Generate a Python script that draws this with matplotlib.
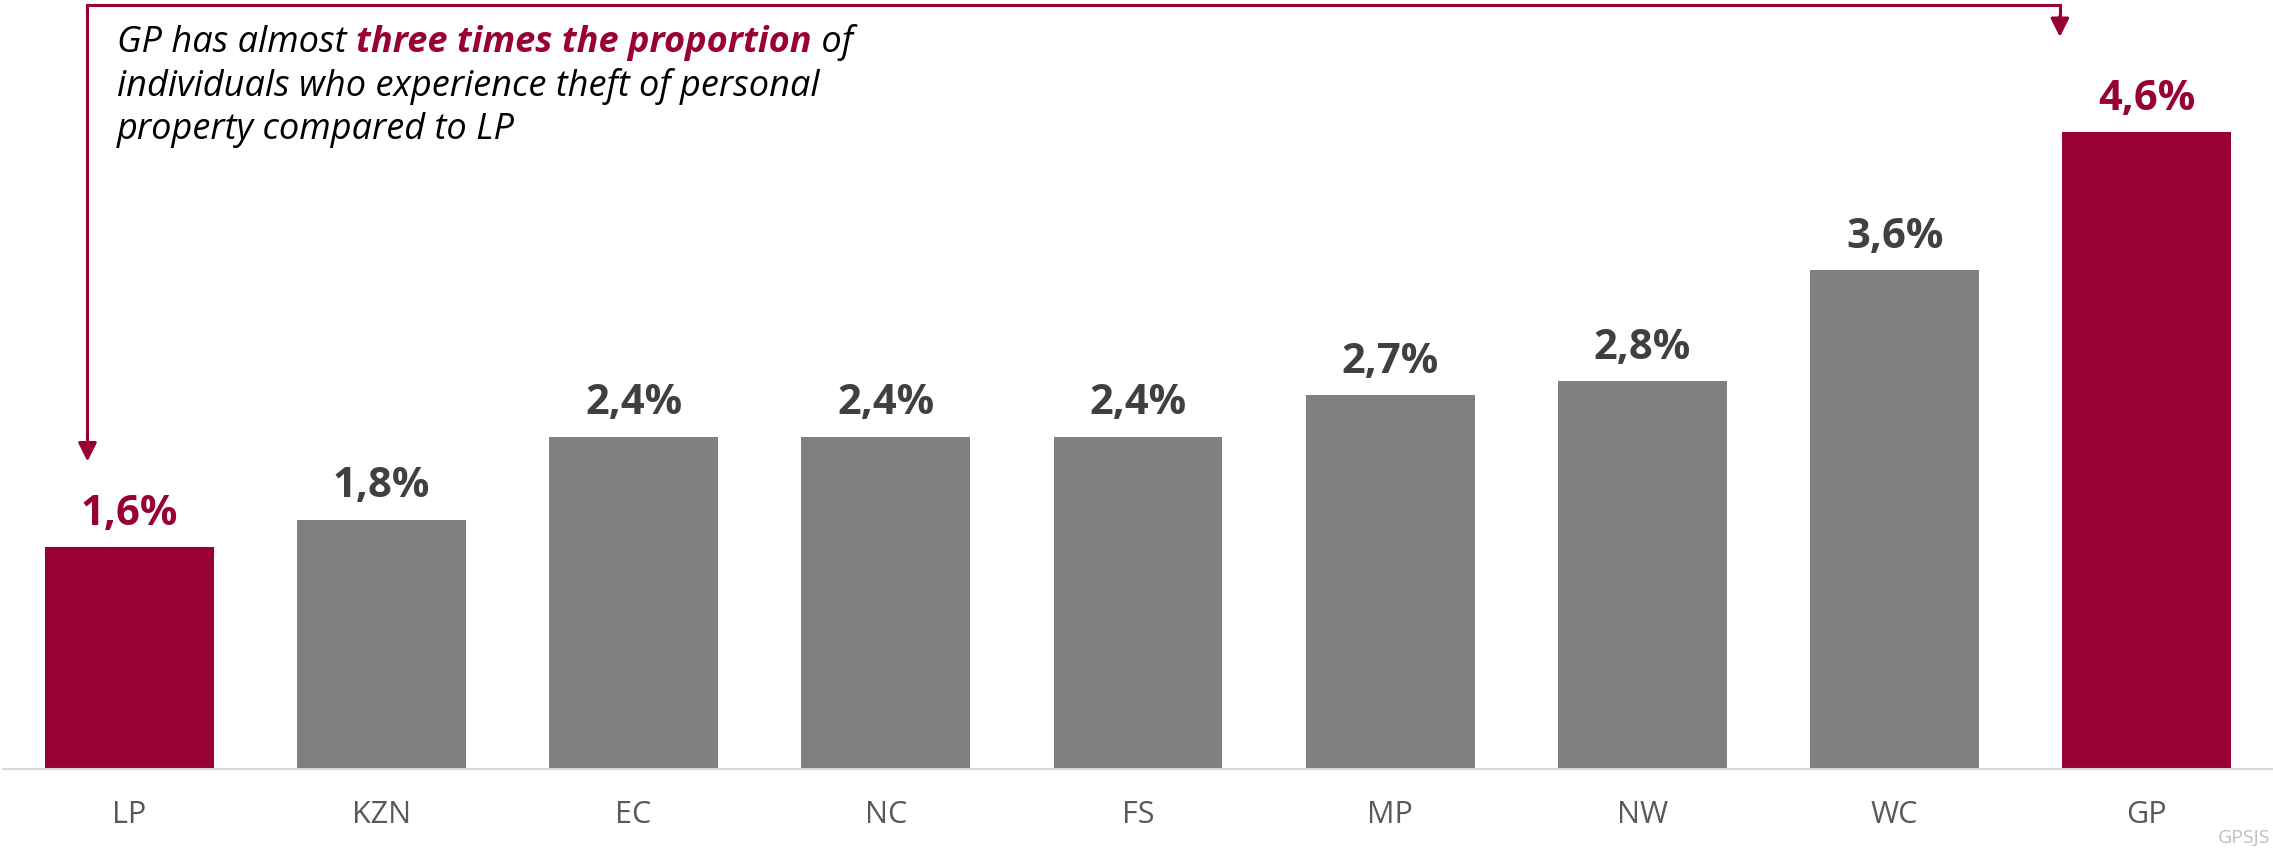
import matplotlib
matplotlib.use('Agg')
import matplotlib.pyplot as plt
import numpy as np

plt.rcParams['font.family'] = ['Open Sans', 'DejaVu Sans']

# data
provinces = ['LP', 'KZN', 'EC', 'NC', 'FS', 'MP', 'NW', 'WC', 'GP']
values = [1.6, 1.8, 2.4, 2.4, 2.4, 2.7, 2.8, 3.6, 4.6]
highlight = ['LP', 'GP']

red = '#990033'
grey = '#808080'
lbl_grey = '#404040'

fig = plt.figure(figsize=(22.73, 8.51), dpi=100)
ax = fig.add_axes([3 / 2273, 82 / 851, 2270 / 2273, 769 / 851])

x = np.arange(len(provinces))
colors = [red if p in highlight else grey for p in provinces]
ax.bar(x, values, width=0.67, color=colors, zorder=2)

for i, v in enumerate(values):
    c = red if provinces[i] in highlight else lbl_grey
    ax.annotate(('%.1f%%' % v).replace('.', ','), xy=(i, v), xytext=(0, 16),
                textcoords='offset points', ha='center', va='baseline',
                fontsize=30, fontweight='bold', color=c)

ax.set_xlim(-0.5, 8.5)
ax.set_ylim(0, 5.552)
ax.set_xticks(x)
ax.set_xticklabels(provinces, fontsize=22, color='#595959')
ax.set_yticks([])
ax.tick_params(axis='x', length=0, pad=22)
for s in ['top', 'left', 'right']:
    ax.spines[s].set_visible(False)
ax.spines['bottom'].set_color('#D9D9D9')
ax.spines['bottom'].set_linewidth(1.5)

# bracket arrow from GP to LP
xl = 0 - 0.165
xr = 8 - 0.345
ytop = 5.516
yl = values[0] + 0.62
yr = 5.285
ax.plot([xl, xl, xr, xr], [yl + 0.1, ytop, ytop, yr + 0.1], color=red, lw=2.2,
        clip_on=False, solid_joinstyle='miter')
for xa, ya in [(xl, yl), (xr, yr)]:
    ax.annotate('', xy=(xa, ya), xytext=(xa, ya + 0.15),
                arrowprops=dict(arrowstyle='-|>', color=red, lw=2.2,
                                mutation_scale=28, shrinkA=0, shrinkB=0),
                annotation_clip=False)

# annotation text
fs = 26
t1 = fig.text(117 / 2273, 1 - 52 / 851, 'GP has almost ', fontsize=fs, style='italic',
              color='black', va='baseline', ha='left')
t2 = ax.annotate('three times the proportion', xy=(1, 0), xycoords=t1, va='bottom', ha='left',
                 fontsize=fs, style='italic', fontweight='bold', color=red)
t3 = ax.annotate(' of', xy=(1, 0), xycoords=t2, va='bottom', ha='left',
                 fontsize=fs, style='italic', color='black')
fig.text(117 / 2273, 1 - 96 / 851, 'individuals who experience theft of personal',
         fontsize=fs, style='italic', color='black', va='baseline', ha='left')
fig.text(117 / 2273, 1 - 139 / 851, 'property compared to LP',
         fontsize=fs, style='italic', color='black', va='baseline', ha='left')

fig.text(2270 / 2273, 1 - 843 / 851, 'GPSJS', fontsize=14, color='#BFBFBF',
         ha='right', va='baseline')

plt.savefig('out.png', dpi=100)
